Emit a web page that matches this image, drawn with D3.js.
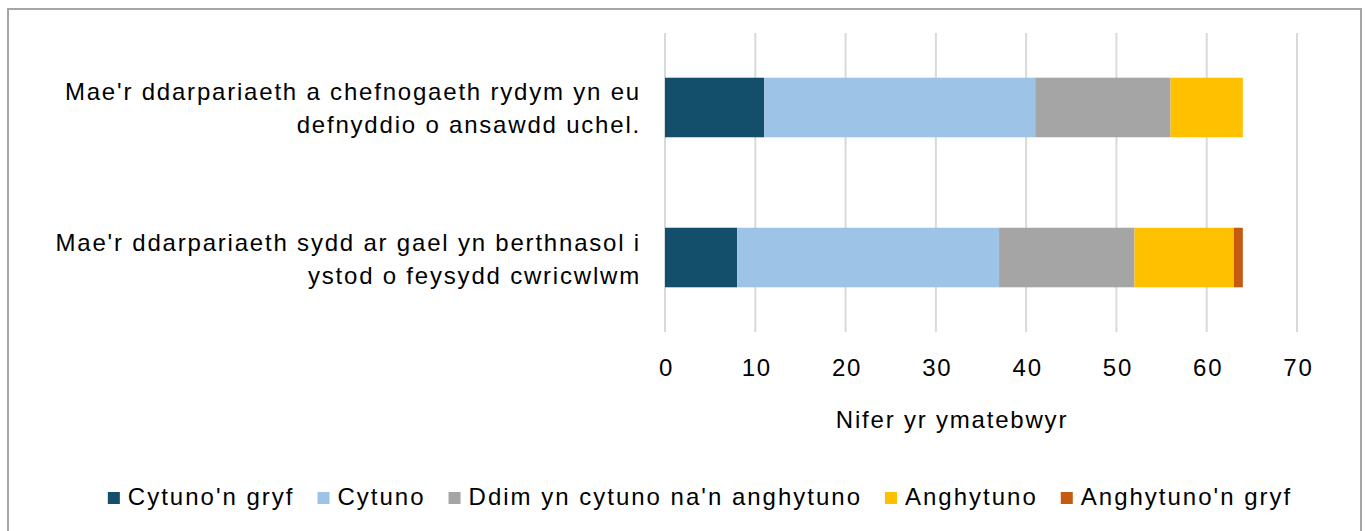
<!DOCTYPE html>
<html>
<head>
<meta charset="utf-8">
<script src="https://cdn.jsdelivr.net/npm/d3@7"></script>
<style>
  body { margin: 0; background: #fff; }
  svg { display: block; font-family: "Liberation Sans", Arial, sans-serif; }
  text { font-size: 24px; letter-spacing: 1.8px; fill: #000; }
  .legend text { letter-spacing: 2px; }
</style>
</head>
<body>
<div id="chart"></div>
<script>
// chart data
const categories = [
    ["Mae'r ddarpariaeth a chefnogaeth rydym yn eu", "defnyddio o ansawdd uchel."],
    ["Mae'r ddarpariaeth sydd ar gael yn berthnasol i", "ystod o feysydd cwricwlwm"]
];
const seriesNames = ["Cytuno'n gryf", "Cytuno", "Ddim yn cytuno na'n anghytuno", "Anghytuno", "Anghytuno'n gryf"];
const seriesColors = ["#134f6a", "#9dc3e6", "#a5a5a5", "#ffc000", "#c55a11"];
const strongAgree = [11, 8];
const agree = [30, 29];
const neutral = [15, 15];
const disagree = [8, 11];
const strongDisagree = [0, 1];
const xTicks = [0, 10, 20, 30, 40, 50, 60, 70];
const xTitle = "Nifer yr ymatebwyr";

const width = 1371, height = 531;
const margin = { top: 33, right: 74, bottom: 199, left: 665 };

const svg = d3.select("#chart").append("svg")
    .attr("width", width)
    .attr("height", height);

// outer frame
svg.append("rect")
    .attr("x", 8).attr("y", 9)
    .attr("width", 1353).attr("height", 540)
    .attr("fill", "none")
    .attr("stroke", "#a6a6a6")
    .attr("stroke-width", 2);

const x = d3.scaleLinear()
    .domain([0, 70])
    .range([margin.left, width - margin.right]);

const y = d3.scaleBand()
    .domain(d3.range(categories.length))
    .range([margin.top, height - margin.bottom])
    .paddingInner(0.603)
    .paddingOuter(0.298);

// gridlines
svg.append("g")
    .selectAll("line")
    .data(xTicks)
    .enter()
    .append("line")
        .attr("x1", d => x(d))
        .attr("x2", d => x(d))
        .attr("y1", margin.top)
        .attr("y2", height - margin.bottom)
        .attr("stroke", "#d9d9d9")
        .attr("stroke-width", 2);

// stack the series
const rows = categories.map((c, i) => ({
    idx: i,
    s0: strongAgree[i], s1: agree[i], s2: neutral[i], s3: disagree[i], s4: strongDisagree[i]
}));
const stack = d3.stack().keys(["s0", "s1", "s2", "s3", "s4"]);
const layers = stack(rows);

svg.append("g")
    .selectAll("g")
    .data(layers)
    .enter()
    .append("g")
        .attr("fill", (d, i) => seriesColors[i])
    .selectAll("rect")
    .data(d => d)
    .enter()
    .append("rect")
        .attr("x", d => x(d[0]))
        .attr("y", d => y(d.data.idx))
        .attr("width", d => x(d[1]) - x(d[0]))
        .attr("height", y.bandwidth());

// x axis labels
const xAxis = d3.axisBottom(x).tickValues(xTicks).tickSize(0).tickPadding(0);
svg.append("g")
    .attr("transform", "translate(1,376)")
    .call(xAxis)
    .call(g => g.select(".domain").remove())
    .selectAll("text")
        .attr("dy", 0)
        .attr("fill", "#000")
        .style("font-size", "24px")
        .style("font-family", "Liberation Sans, Arial, sans-serif");

svg.append("text")
    .attr("x", 952)
    .attr("y", 428)
    .attr("text-anchor", "middle")
    .text(xTitle);

// category labels
const labels = svg.append("g");
categories.forEach((lines, i) => {
    const cy = y(i) + y.bandwidth() / 2;
    lines.forEach((line, j) => {
        labels.append("text")
            .attr("x", 641)
            .attr("y", cy - 7 + j * 33)
            .attr("text-anchor", "end")
            .text(line);
    });
});

// legend
const legend = svg.append("g").attr("class", "legend").attr("transform", "translate(0,505)");
const items = legend.selectAll("g")
    .data(seriesNames)
    .enter()
    .append("g");
items.append("rect")
    .attr("width", 12).attr("height", 12)
    .attr("y", -13)
    .attr("fill", (d, i) => seriesColors[i]);
items.append("text")
    .attr("x", 20)
    .attr("y", 0)
    .text(d => d);
let pos = 0;
const offsets = [];
items.each(function() {
    offsets.push(pos);
    pos += this.getBBox().width + 23;
});
const total = pos - 23;
const start = 700 - total / 2;
items.attr("transform", (d, i) => `translate(${start + offsets[i]},0)`);
</script>
</body>
</html>
